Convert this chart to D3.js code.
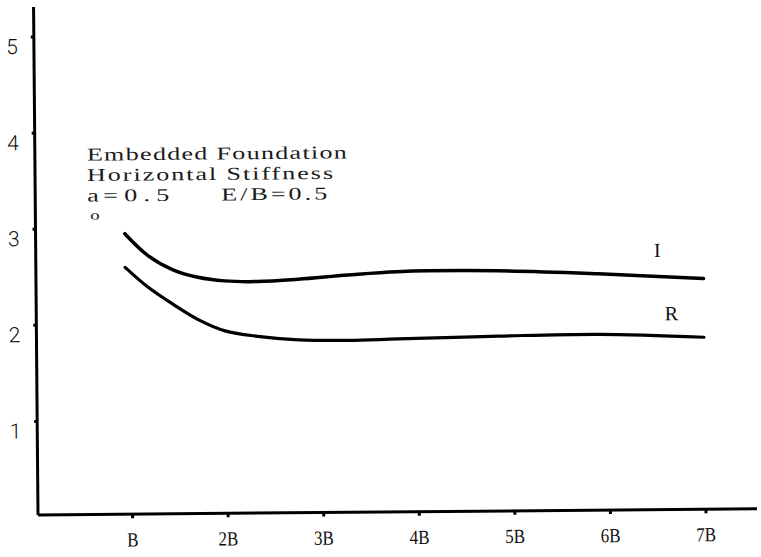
<!DOCTYPE html>
<html>
<head>
<meta charset="utf-8">
<script src="https://cdn.jsdelivr.net/npm/d3@7"></script>
<style>
  html, body { margin: 0; padding: 0; background: #fff; }
  svg { display: block; }
</style>
</head>
<body>
<svg id="chart" width="761" height="557"></svg>
<script>
// ---- data ----
const xTickValues = [1, 2, 3, 4, 5, 6, 7];
const xTickLabels = ["B", "2B", "3B", "4B", "5B", "6B", "7B"];
const yTickValues = [1, 2, 3, 4, 5];
const yTickLabels = ["1", "2", "3", "4", "5"];

// x positions (multiples of B) shared by both curves
const curveX = [0.95, 1.19, 1.45, 1.71, 1.99, 2.33, 2.76, 3.28, 3.8, 4.85, 5.9, 7.0];
// I curve
const seriesI = [2.94, 2.71, 2.56, 2.48, 2.44, 2.43, 2.45, 2.49, 2.52, 2.52, 2.48, 2.42];
// R curve
const seriesR = [2.59, 2.38, 2.20, 2.04, 1.92, 1.86, 1.82, 1.81, 1.82, 1.84, 1.85, 1.81];

const curveLabels = [
  { text: "I", x: 6.52, y: 2.65 },
  { text: "R", x: 6.66, y: 1.99 }
];

const annotationLines = ["Embedded Foundation", "Horizontal Stiffness"];

// ---- layout ----
const svg = d3.select("#chart");
const originX = 38, originY = 515;

const x = d3.scaleLinear().domain([0, 7]).range([36.5, 705.5]);
const y = d3.scaleLinear().domain([0, 5]).range([517, 36.5]);

// the scanned figure is slightly rotated
const g = svg.append("g")
  .attr("transform", `rotate(-0.5, ${originX}, ${originY})`);

// y axis
const yAxis = d3.axisLeft(y)
  .tickValues(yTickValues)
  .tickFormat((d, i) => yTickLabels[i])
  .tickSize(3)
  .tickPadding(13);
const yg = g.append("g").attr("transform", `translate(${originX},0)`).call(yAxis);
yg.select(".domain").remove();
yg.selectAll(".tick line").attr("stroke", "#000").attr("stroke-width", 3);
yg.selectAll(".tick text")
  .attr("font-family", "Roboto, 'Liberation Sans', sans-serif")
  .attr("font-weight", 300)
  .attr("font-size", 21)
  .attr("dy", "0.8em")
  .attr("fill", "#111");

g.append("line")
  .attr("x1", originX).attr("y1", 7)
  .attr("x2", originX).attr("y2", originY)
  .attr("stroke", "#000").attr("stroke-width", 3);

// x axis
const xAxis = d3.axisBottom(x)
  .tickValues(xTickValues)
  .tickFormat((d, i) => xTickLabels[i])
  .tickSize(4)
  .tickPadding(14);
const xg = g.append("g").attr("transform", `translate(0,${originY})`).call(xAxis);
xg.select(".domain").remove();
xg.selectAll(".tick line").attr("stroke", "#000").attr("stroke-width", 3);
xg.selectAll(".tick text")
  .attr("font-family", "'Liberation Serif', 'DejaVu Serif', serif")
  .attr("font-size", 20)
  .attr("fill", "#111")
  .attr("transform", "scale(0.85,1)");

g.append("line")
  .attr("x1", originX).attr("y1", originY)
  .attr("x2", 757).attr("y2", originY)
  .attr("stroke", "#000").attr("stroke-width", 3);

// curves
const line = d3.line()
  .x(d => x(d[0]))
  .y(d => y(d[1]))
  .curve(d3.curveCatmullRom.alpha(0.5));

g.append("path")
  .datum(curveX.map((v, i) => [v, seriesI[i]]))
  .attr("d", line)
  .attr("fill", "none").attr("stroke", "#000").attr("stroke-width", 3.5)
  .attr("stroke-linecap", "round");

g.append("path")
  .datum(curveX.map((v, i) => [v, seriesR[i]]))
  .attr("d", line)
  .attr("fill", "none").attr("stroke", "#000").attr("stroke-width", 3.2)
  .attr("stroke-linecap", "round");

// curve labels
g.selectAll(".clabel")
  .data(curveLabels)
  .join("text")
  .attr("class", "clabel")
  .attr("x", d => x(d.x))
  .attr("y", d => y(d.y))
  .attr("text-anchor", "middle")
  .attr("font-family", "'Liberation Serif', serif")
  .attr("font-size", 20)
  .attr("fill", "#111")
  .text(d => d.text);

// annotation block (typewriter-like: widened serif glyphs)
const serif = "'Liberation Serif', 'DejaVu Serif', serif";
const sx = 1.45, ax0 = 90;
const ann = g.append("g")
  .attr("transform", `translate(${ax0},0) scale(${sx},1)`)
  .attr("font-family", serif).attr("font-size", 18).attr("fill", "#1a1a1a");
const annItems = [
  { t: annotationLines[0], x0: 90, x1: 350, y: 161 },
  { t: annotationLines[1], x0: 90, x1: 336, y: 181.5 },
  { t: "=0.5", x0: 106, x1: 172, y: 202 },
  { t: "E/B=0.5", x0: 224, x1: 330, y: 202 }
];
annItems.forEach(d => {
  ann.append("text")
    .attr("x", (d.x0 - ax0) / sx).attr("y", d.y)
    .attr("textLength", (d.x1 - d.x0) / sx).attr("lengthAdjust", "spacing")
    .text(d.t);
});
ann.append("text").attr("x", 0).attr("y", 202).text("a");
ann.append("text").attr("x", 2).attr("y", 220).attr("font-size", 13).text("o");
</script>
</body>
</html>
